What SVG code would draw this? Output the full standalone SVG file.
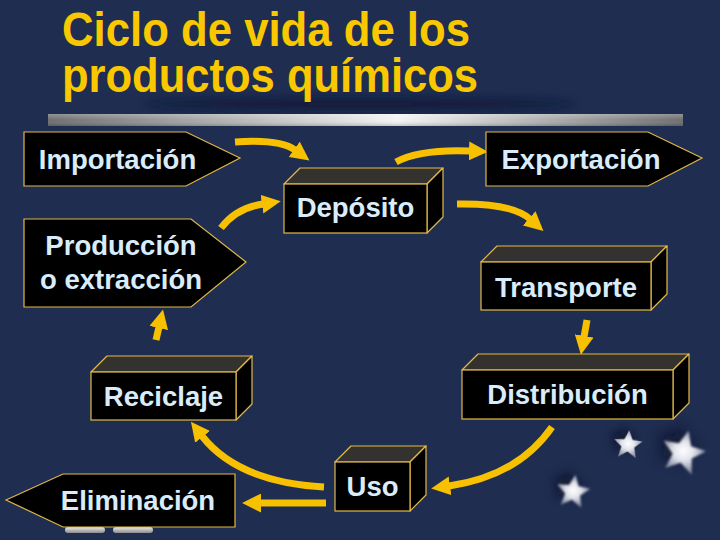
<svg xmlns="http://www.w3.org/2000/svg" width="720" height="540" viewBox="0 0 720 540">
<style>
.bg{fill:#1f2d51}
.title{font-family:"Liberation Sans",Arial,sans-serif;font-weight:bold;font-size:48px;fill:#f9c800}
.lbl{font-family:"Liberation Sans",Arial,sans-serif;font-weight:bold;font-size:27.5px;fill:#d9ecfb;text-anchor:middle}
.front{fill:#000;stroke:#e2b848;stroke-width:1.2}
.top{fill:#34322e;stroke:#e2b848;stroke-width:1.2;stroke-linejoin:round}
.side{fill:#000;stroke:#e2b848;stroke-width:1.2;stroke-linejoin:round}
.conn{fill:none;stroke:#f7c000;stroke-width:7;stroke-linecap:butt}
</style>
<defs>
<marker id="ah" markerUnits="userSpaceOnUse" markerWidth="19" markerHeight="19" viewBox="0 0 18 18" refX="1" refY="9" orient="auto">
<path d="M0,0 L18,9 L0,18 z" fill="#f7c000"/>
</marker>
<linearGradient id="bar" x1="0" y1="0" x2="1" y2="0">
<stop offset="0" stop-color="#6e6e72"/>
<stop offset="0.55" stop-color="#f4f4f4"/>
<stop offset="1" stop-color="#6e6e72"/>
</linearGradient>
<linearGradient id="barv" x1="0" y1="0" x2="0" y2="1">
<stop offset="0" stop-color="#fff" stop-opacity="0.25"/>
<stop offset="0.5" stop-color="#fff" stop-opacity="0"/>
<stop offset="1" stop-color="#000" stop-opacity="0.2"/>
</linearGradient>
<radialGradient id="starg" cx="0.5" cy="0.5" r="0.5">
<stop offset="0" stop-color="#ffffff"/>
<stop offset="0.45" stop-color="#e2e4ec"/>
<stop offset="1" stop-color="#8a90a4"/>
</radialGradient>
<linearGradient id="pill" x1="0" y1="0" x2="0" y2="1">
<stop offset="0" stop-color="#f0ede4"/>
<stop offset="1" stop-color="#8c8c90"/>
</linearGradient>
<filter id="blur" x="-50%" y="-50%" width="200%" height="200%"><feGaussianBlur stdDeviation="3"/></filter>
<filter id="soft" x="-20%" y="-20%" width="140%" height="140%"><feGaussianBlur stdDeviation="0.5"/></filter>
<filter id="blur2" x="-20%" y="-200%" width="140%" height="500%"><feGaussianBlur stdDeviation="4"/></filter>
<polygon id="star" points="0,-10 2.7,-3.7 9.5,-3.1 4.3,1.4 5.9,8.1 0,4.4 -5.9,8.1 -4.3,1.4 -9.5,-3.1 -2.7,-3.7"/>
</defs>

<rect class="bg" x="0" y="0" width="720" height="540"/>

<g id="title">
<ellipse cx="360" cy="104" rx="215" ry="5" fill="#0c1430" opacity="0.8" filter="url(#blur2)"/>
<text class="title" x="62" y="46" textLength="408" lengthAdjust="spacingAndGlyphs">Ciclo de vida de los</text>
<text class="title" x="62" y="92" textLength="416" lengthAdjust="spacingAndGlyphs">productos químicos</text>
<rect x="48" y="114" width="635" height="12" fill="url(#bar)"/>
<rect x="48" y="114" width="635" height="12" fill="url(#barv)"/>
</g>

<g id="connectors">
<path class="conn" d="M235,142 Q280,139 295,150" marker-end="url(#ah)"/>
<path class="conn" d="M221,228 Q236,208 263,204" marker-end="url(#ah)"/>
<path class="conn" d="M396,162 Q420,149 470,151" marker-end="url(#ah)"/>
<path class="conn" d="M457,204 Q512,203 530,219" marker-end="url(#ah)"/>
<path class="conn" d="M587,320 L584,337" marker-end="url(#ah)"/>
<path class="conn" d="M552,427 Q518,476 449,486" marker-end="url(#ah)"/>
<path class="conn" d="M324,487 Q238,482 202,436" marker-end="url(#ah)"/>
<path class="conn" d="M326,503 L260,503" marker-end="url(#ah)"/>
<path class="conn" d="M156,340 L159,327" marker-end="url(#ah)"/>
</g>

<g id="importacion">
<polygon class="front" points="24,132 186,132 240,158 186,186 24,186"/>
<text class="lbl" x="117.5" y="169">Importación</text>
</g>

<g id="exportacion">
<polygon class="front" points="486,132 648,132 702,158 648,186 486,186"/>
<text class="lbl" x="581" y="169">Exportación</text>
</g>

<g id="produccion">
<polygon class="front" points="24,219 191,219 246,262 191,307 24,307"/>
<text class="lbl" x="121" y="255">Producción</text>
<text class="lbl" x="121" y="289">o extracción</text>
</g>

<g id="eliminacion">
<rect x="65" y="527" width="40" height="6" rx="3" fill="url(#pill)"/>
<rect x="113" y="527" width="40" height="6" rx="3" fill="url(#pill)"/>
<polygon class="front" points="6,500 63,474 235,474 235,527 63,527"/>
<text class="lbl" x="138" y="510">Eliminación</text>
</g>

<g id="deposito">
<polygon class="top" points="284,184 300,168 443,168 427,184"/>
<polygon class="side" points="427,184 443,168 443,217 427,233"/>
<rect class="front" x="284" y="184" width="143" height="49"/>
<text class="lbl" x="355.5" y="217">Depósito</text>
</g>

<g id="transporte">
<polygon class="top" points="481,262 497,246 667,246 651,262"/>
<polygon class="side" points="651,262 667,246 667,294 651,310"/>
<rect class="front" x="481" y="262" width="170" height="48"/>
<text class="lbl" x="566" y="297">Transporte</text>
</g>

<g id="distribucion">
<polygon class="top" points="462,370 478,354 689,354 673,370"/>
<polygon class="side" points="673,370 689,354 689,403 673,419"/>
<rect class="front" x="462" y="370" width="211" height="49"/>
<text class="lbl" x="567.5" y="404">Distribución</text>
</g>

<g id="reciclaje">
<polygon class="top" points="91,372 107,356 252,356 236,372"/>
<polygon class="side" points="236,372 252,356 252,404 236,420"/>
<rect class="front" x="91" y="372" width="145" height="48"/>
<text class="lbl" x="163.5" y="406">Reciclaje</text>
</g>

<g id="uso">
<polygon class="top" points="335,462 351,446 426,446 410,462"/>
<polygon class="side" points="410,462 426,446 426,495 410,511"/>
<rect class="front" x="335" y="462" width="75" height="49"/>
<text class="lbl" x="372.5" y="496">Uso</text>
</g>

<g id="stars">
<use href="#star" transform="translate(623,440) rotate(5) scale(1.5)" fill="#070b1c" opacity="0.7" filter="url(#blur)"/>
<use href="#star" transform="translate(628,445) rotate(5) scale(1.5)" fill="url(#starg)" filter="url(#soft)"/>
<use href="#star" transform="translate(676,446) rotate(14) scale(2.3)" fill="#070b1c" opacity="0.7" filter="url(#blur)"/>
<use href="#star" transform="translate(683,453) rotate(14) scale(2.3)" fill="url(#starg)" filter="url(#soft)"/>
<use href="#star" transform="translate(567,486) rotate(8) scale(1.75)" fill="#070b1c" opacity="0.7" filter="url(#blur)"/>
<use href="#star" transform="translate(573,492) rotate(8) scale(1.75)" fill="url(#starg)" filter="url(#soft)"/>
</g>
</svg>
